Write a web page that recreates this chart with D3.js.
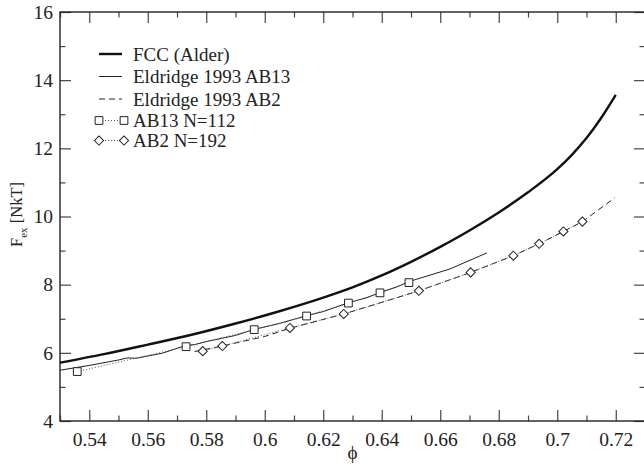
<!DOCTYPE html>
<html>
<head>
<meta charset="utf-8">
<script src="https://cdn.jsdelivr.net/npm/d3@7"></script>
<style>
  body { margin: 0; background: #fff; }
  svg { display: block; font-family: "Liberation Serif", "DejaVu Serif", serif; }
</style>
</head>
<body>
<div id="chart"></div>
<script>
// x ticks / y ticks
const xMajor = [0.54, 0.56, 0.58, 0.6, 0.62, 0.64, 0.66, 0.68, 0.7, 0.72];
const xMinor = [0.53, 0.55, 0.57, 0.59, 0.61, 0.63, 0.65, 0.67, 0.69, 0.71, 0.73];
const yMajor = [4, 6, 8, 10, 12, 14, 16];
const yMinor = [5, 7, 9, 11, 13, 15];

// FCC (Alder), thick solid
const fccPhi = [0.530, 0.545, 0.560, 0.575, 0.590, 0.605, 0.620, 0.630, 0.640, 0.650, 0.660, 0.670, 0.680, 0.690, 0.700, 0.705, 0.710, 0.715, 0.720];
const fccF   = [5.71, 5.96, 6.24, 6.53, 6.86, 7.22, 7.62, 7.92, 8.27, 8.67, 9.11, 9.59, 10.12, 10.71, 11.39, 11.81, 12.30, 12.89, 13.57];

// Eldridge 1993 AB13, thin solid
const eldAB13Phi = [0.530, 0.540, 0.550, 0.553, 0.556, 0.565, 0.5731, 0.576, 0.580, 0.590, 0.5964, 0.605, 0.6143, 0.620, 0.6286, 0.635, 0.6394, 0.645, 0.6493, 0.6633, 0.6759];
const eldAB13F   = [5.49, 5.63, 5.79, 5.85, 5.84, 5.99, 6.22, 6.24, 6.33, 6.51, 6.69, 6.86, 7.09, 7.21, 7.47, 7.62, 7.77, 7.93, 8.09, 8.46, 8.93];

// Eldridge 1993 AB2, dashed
const eldAB2Phi = [0.576, 0.5855, 0.600, 0.6086, 0.627, 0.640, 0.6527, 0.6704, 0.685, 0.6938, 0.7021, 0.7086, 0.7197];
const eldAB2F   = [6.04, 6.20, 6.48, 6.72, 7.14, 7.48, 7.82, 8.36, 8.85, 9.20, 9.56, 9.85, 10.55];

// AB13 N=112 squares
const ab13Phi = [0.5359, 0.5731, 0.5964, 0.6143, 0.6286, 0.6394, 0.6493];
const ab13F   = [5.45, 6.18, 6.68, 7.08, 7.46, 7.76, 8.06];

// AB2 N=192 diamonds
const ab2Phi = [0.5788, 0.5855, 0.6086, 0.6270, 0.6527, 0.6704, 0.6850, 0.6938, 0.7021, 0.7086];
const ab2F   = [6.05, 6.20, 6.73, 7.14, 7.82, 8.36, 8.85, 9.20, 9.56, 9.85];

const legendLabels = ["FCC (Alder)", "Eldridge 1993 AB13", "Eldridge 1993 AB2", "AB13 N=112", "AB2 N=192"];

const W = 644, H = 464;
const margin = { left: 60, right: -1, top: 12, bottom: 43 };

const svg = d3.select("#chart").append("svg").attr("width", W).attr("height", H);

const x = d3.scaleLinear().domain([0.53, 0.73]).range([margin.left, W - margin.right]);
const y = d3.scaleLinear().domain([4, 16]).range([H - margin.bottom, margin.top]);

const fmt = d => String(+d.toFixed(2));
const tickCol = "#444";
const serif = "Liberation Serif";

function drawAxis(axis, tr, labels) {
  const g = svg.append("g").attr("transform", tr).call(axis);
  g.select(".domain").remove();
  g.selectAll("line").attr("stroke", tickCol).attr("stroke-width", 1.2);
  if (!labels) g.selectAll("text").remove();
  else g.selectAll("text").attr("font-size", 19.5).attr("fill", "#222").attr("font-family", serif);
  return g;
}

const pBottom = H - margin.bottom, pTop = margin.top, pLeft = margin.left, pRight = W - margin.right;

// bottom
drawAxis(d3.axisBottom(x).tickValues(xMajor).tickSize(-11).tickPadding(11).tickFormat(fmt), `translate(0,${pBottom})`, true);
drawAxis(d3.axisBottom(x).tickValues(xMinor).tickSize(-5.5), `translate(0,${pBottom})`, false);
// top
drawAxis(d3.axisTop(x).tickValues(xMajor).tickSize(-11), `translate(0,${pTop})`, false);
drawAxis(d3.axisTop(x).tickValues(xMinor).tickSize(-5.5), `translate(0,${pTop})`, false);
// left
drawAxis(d3.axisLeft(y).tickValues(yMajor).tickSize(-11).tickPadding(7).tickFormat(d3.format("d")), `translate(${pLeft},0)`, true);
drawAxis(d3.axisLeft(y).tickValues(yMinor).tickSize(-5.5), `translate(${pLeft},0)`, false);
// right
drawAxis(d3.axisRight(y).tickValues(yMajor).tickSize(-11), `translate(${pRight},0)`, false);
drawAxis(d3.axisRight(y).tickValues(yMinor).tickSize(-5.5), `translate(${pRight},0)`, false);

// frame
svg.append("rect")
  .attr("x", pLeft).attr("y", pTop)
  .attr("width", pRight - pLeft).attr("height", pBottom - pTop)
  .attr("fill", "none").attr("stroke", "#222").attr("stroke-width", 1.4);

// axis titles
svg.append("text")
  .attr("x", (pLeft + pRight) / 2).attr("y", H - 5)
  .attr("text-anchor", "middle").attr("font-size", 19).attr("fill", "#222")
  .text("\u03d5");

const yt = svg.append("text")
  .attr("transform", `translate(22,${(pTop + pBottom) / 2 - 2}) rotate(-90)`)
  .attr("text-anchor", "middle").attr("font-size", 16.5).attr("fill", "#222");
yt.append("tspan").text("F");
yt.append("tspan").attr("font-size", 11).attr("dy", 5).text("ex");
yt.append("tspan").attr("dy", -5).text(" [NkT]");

const line = d3.line().x(d => x(d[0])).y(d => y(d[1]));
const zip = (a, b) => a.map((v, i) => [v, b[i]]);

const plot = svg.append("g");

plot.append("path").datum(zip(fccPhi, fccF))
  .attr("d", d3.line().x(d => x(d[0])).y(d => y(d[1])).curve(d3.curveMonotoneX)).attr("fill", "none")
  .attr("stroke", "#111").attr("stroke-width", 2.4);

plot.append("path").datum(zip(eldAB13Phi, eldAB13F))
  .attr("d", line).attr("fill", "none")
  .attr("stroke", "#222").attr("stroke-width", 1);

plot.append("path").datum(zip(eldAB2Phi, eldAB2F))
  .attr("d", line).attr("fill", "none")
  .attr("stroke", "#222").attr("stroke-width", 1).attr("stroke-dasharray", "6,4");

plot.append("path").datum(zip(ab13Phi, ab13F))
  .attr("d", line).attr("fill", "none")
  .attr("stroke", "#555").attr("stroke-width", 1).attr("stroke-dasharray", "1,2");
plot.append("path").datum(zip(ab2Phi, ab2F))
  .attr("d", line).attr("fill", "none")
  .attr("stroke", "#555").attr("stroke-width", 1).attr("stroke-dasharray", "1,2");

const sq = d3.symbol().type(d3.symbolSquare).size(60);
const dia = d3.symbol().type(d3.symbolSquare).size(42);

plot.selectAll(".sq").data(zip(ab13Phi, ab13F)).join("path")
  .attr("class", "sq").attr("d", sq)
  .attr("transform", d => `translate(${x(d[0])},${y(d[1])})`)
  .attr("fill", "#fff").attr("stroke", "#222").attr("stroke-width", 1);

plot.selectAll(".dia").data(zip(ab2Phi, ab2F)).join("path")
  .attr("class", "dia").attr("d", dia)
  .attr("transform", d => `translate(${x(d[0])},${y(d[1])}) rotate(45)`)
  .attr("fill", "#fff").attr("stroke", "#222").attr("stroke-width", 1);

// legend
const legY = [54, 76.5, 99, 120.5, 140.5];
const lx0 = 99, lx1 = 122, ltx = 133;
const leg = svg.append("g");
legendLabels.forEach((t, i) => {
  leg.append("text").attr("x", ltx).attr("y", legY[i] + 6.5)
    .attr("font-size", 19).attr("fill", "#222").text(t);
});
leg.append("line").attr("x1", lx0).attr("x2", lx1).attr("y1", legY[0]).attr("y2", legY[0])
  .attr("stroke", "#111").attr("stroke-width", 2.4);
leg.append("line").attr("x1", lx0).attr("x2", lx1).attr("y1", legY[1]).attr("y2", legY[1])
  .attr("stroke", "#222").attr("stroke-width", 1);
leg.append("line").attr("x1", lx0).attr("x2", lx1).attr("y1", legY[2]).attr("y2", legY[2])
  .attr("stroke", "#222").attr("stroke-width", 1).attr("stroke-dasharray", "6,4");
[3, 4].forEach(i => {
  leg.append("line").attr("x1", lx0).attr("x2", lx1 + 2).attr("y1", legY[i]).attr("y2", legY[i])
    .attr("stroke", "#555").attr("stroke-width", 1).attr("stroke-dasharray", "1,2");
  [lx0, lx1 + 2].forEach(px => {
    leg.append("path").attr("d", i === 3 ? sq : dia)
      .attr("transform", `translate(${px},${legY[i]})` + (i === 4 ? " rotate(45)" : ""))
      .attr("fill", "#fff").attr("stroke", "#222").attr("stroke-width", 1);
  });
});
</script>
</body>
</html>
